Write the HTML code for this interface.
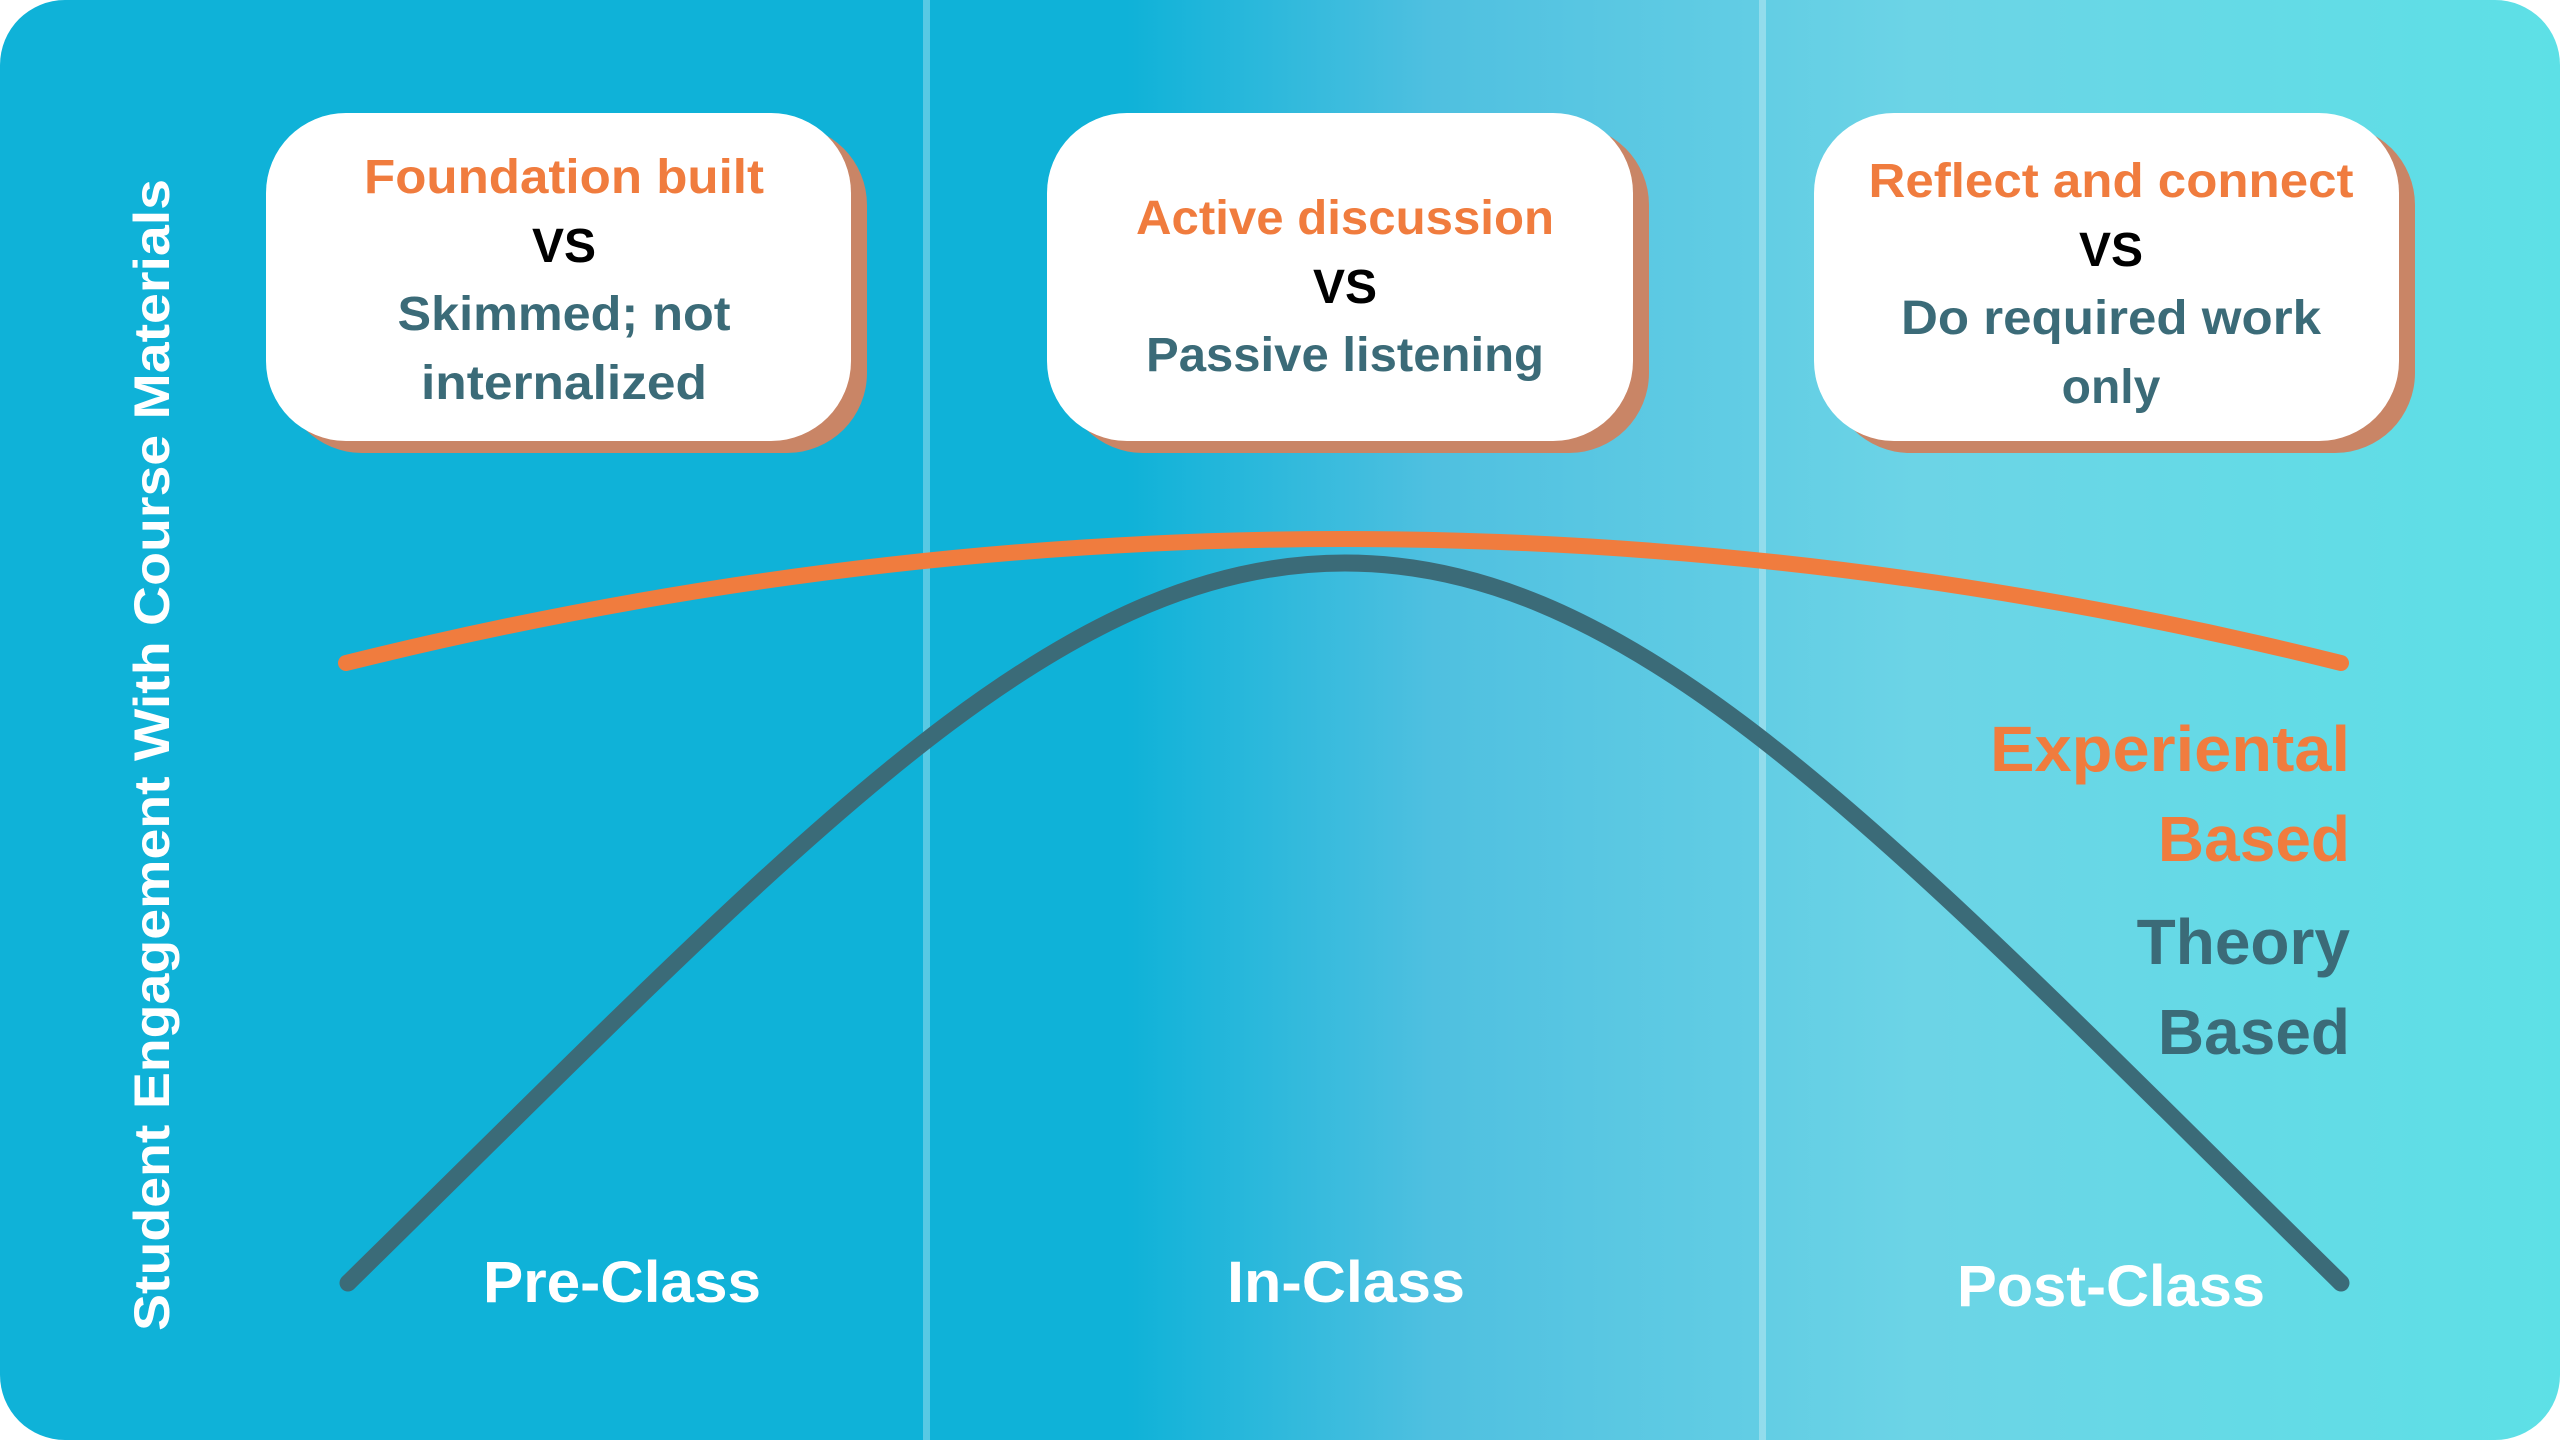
<!DOCTYPE html>
<html><head><meta charset="utf-8"><style>
html,body{margin:0;padding:0;background:#fff;}
svg{display:block}
text{font-family:"Liberation Sans",sans-serif;font-weight:bold}
</style></head><body>
<svg width="2560" height="1440" viewBox="0 0 2560 1440" xmlns="http://www.w3.org/2000/svg">
<defs>
<linearGradient id="bg" x1="0" y1="0" x2="2560" y2="0" gradientUnits="userSpaceOnUse">
<stop offset="0" stop-color="#0fb2d8"/>
<stop offset="0.44" stop-color="#0fb2d8"/>
<stop offset="0.56" stop-color="#4fc0e0"/>
<stop offset="0.75" stop-color="#6cd4e6"/>
<stop offset="1" stop-color="#5de0e6"/>
</linearGradient>
</defs>
<rect x="0" y="0" width="2560" height="1440" rx="65" fill="url(#bg)"/>
<rect x="923" y="0" width="7" height="1440" fill="#ffffff" opacity="0.3"/>
<rect x="1759" y="0" width="7" height="1440" fill="#ffffff" opacity="0.3"/>

<!-- cards -->
<rect x="282" y="125" width="585" height="328" rx="80" fill="#c98566"/>
<rect x="266" y="113" width="585" height="328" rx="80" fill="#ffffff"/>
<rect x="1063" y="125" width="586" height="328" rx="80" fill="#c98566"/>
<rect x="1047" y="113" width="586" height="328" rx="80" fill="#ffffff"/>
<rect x="1830" y="125" width="585" height="328" rx="80" fill="#c98566"/>
<rect x="1814" y="113" width="585" height="328" rx="80" fill="#ffffff"/>

<g text-anchor="middle" font-size="48">
<text x="564" y="193" fill="#f07c3e" textLength="400" lengthAdjust="spacingAndGlyphs">Foundation built</text>
<text x="564" y="262" fill="#000">VS</text>
<text x="564" y="330" fill="#3b6b78" textLength="333" lengthAdjust="spacingAndGlyphs">Skimmed; not</text>
<text x="564" y="399" fill="#3b6b78" textLength="286" lengthAdjust="spacingAndGlyphs">internalized</text>

<text x="1345" y="234" fill="#f07c3e" textLength="418" lengthAdjust="spacingAndGlyphs">Active discussion</text>
<text x="1345" y="303" fill="#000">VS</text>
<text x="1345" y="371" fill="#3b6b78" textLength="398" lengthAdjust="spacingAndGlyphs">Passive listening</text>

<text x="2111" y="197" fill="#f07c3e" textLength="485" lengthAdjust="spacingAndGlyphs">Reflect and connect</text>
<text x="2111" y="266" fill="#000">VS</text>
<text x="2111" y="334" fill="#3b6b78" textLength="420" lengthAdjust="spacingAndGlyphs">Do required work</text>
<text x="2111" y="403" fill="#3b6b78">only</text>
</g>

<!-- curves -->
<path d="M346 663 Q1345 415 2341 663" fill="none" stroke="#f07c3e" stroke-width="16" stroke-linecap="round"/>
<path d="M348 1283 C800 840 1050 563 1345 563 C1640 563 1890 840 2341 1283" fill="none" stroke="#3b6b78" stroke-width="17" stroke-linecap="round"/>

<!-- right labels -->
<g text-anchor="end" font-size="64">
<text x="2350" y="771" fill="#f07c3e" textLength="360" lengthAdjust="spacingAndGlyphs">Experiental</text>
<text x="2350" y="861" fill="#f07c3e">Based</text>
<text x="2350" y="964" fill="#3b6b78">Theory</text>
<text x="2350" y="1054" fill="#3b6b78">Based</text>
</g>

<!-- x labels -->
<g text-anchor="middle" font-size="58" fill="#ffffff">
<text x="622" y="1302" textLength="278" lengthAdjust="spacingAndGlyphs">Pre-Class</text>
<text x="1346" y="1302" textLength="238" lengthAdjust="spacingAndGlyphs">In-Class</text>
<text x="2111" y="1306" textLength="308" lengthAdjust="spacingAndGlyphs">Post-Class</text>
</g>

<!-- y axis -->
<text transform="translate(169 755) rotate(-90)" text-anchor="middle" font-size="50" fill="#ffffff" textLength="1152" lengthAdjust="spacingAndGlyphs">Student Engagement With Course Materials</text>
</svg>
</body></html>
